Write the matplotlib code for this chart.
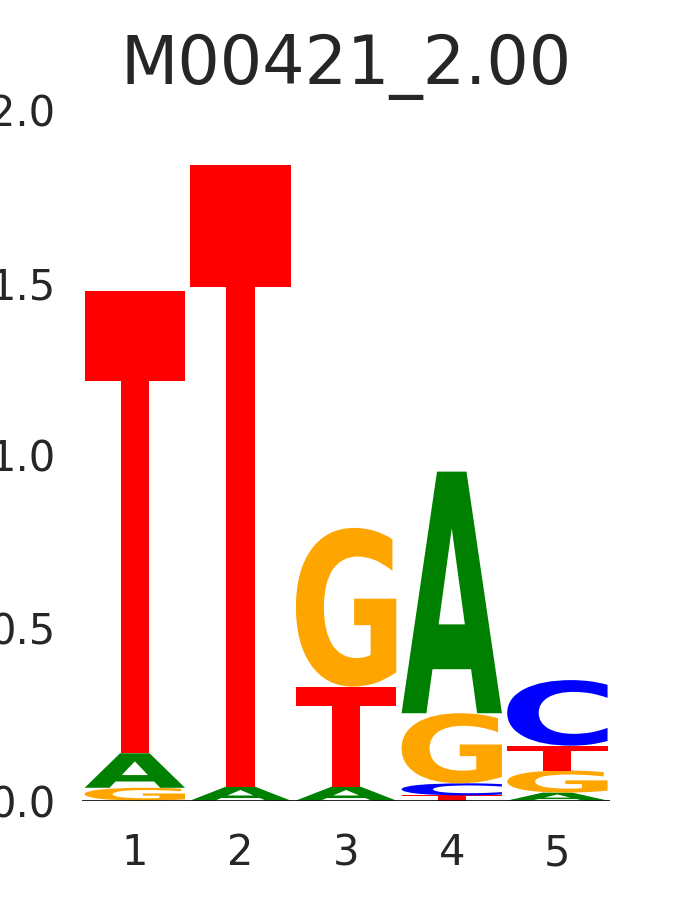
import matplotlib
matplotlib.use("Agg")
import matplotlib.pyplot as plt
import numpy as np
import seaborn as sns
from matplotlib.textpath import TextPath
from matplotlib.patches import PathPatch
from matplotlib.font_manager import FontProperties
from matplotlib.transforms import Affine2D

# Data: information content per letter at each position (bits)
positions = [1, 2, 3, 4, 5]
letters = ['A', 'C', 'G', 'T']
height_A = [0.100, 0.040, 0.040, 0.700, 0.023]
height_C = [0.000, 0.000, 0.000, 0.035, 0.190]
height_G = [0.037, 0.000, 0.460, 0.203, 0.064]
height_T = [1.339, 1.800, 0.290, 0.015, 0.072]
colors = {'A': 'green', 'C': 'blue', 'G': 'orange', 'T': 'red'}
title = 'M00421_2.00'

sns.set_style('white')
plt.rcParams['font.family'] = ['DejaVu Sans']

fig = plt.figure(figsize=(6.75, 9), dpi=100)
ax = fig.add_axes([0.1215, 0.1105, 0.7825, 0.767])

fp = FontProperties(family='DejaVu Sans', weight='bold')


def draw_letter(ax, char, x, bottom, height, width=0.95):
    path = TextPath((0, 0), char, size=1, prop=fp)
    ext = path.get_extents()
    tr = (Affine2D()
          .translate(-ext.x0, -ext.y0)
          .scale(width / ext.width, height / ext.height)
          .translate(x - width / 2, bottom))
    patch = PathPatch(tr.transform_path(path), facecolor=colors[char],
                      edgecolor='none', linewidth=0)
    ax.add_patch(patch)


heights = {'A': height_A, 'C': height_C, 'G': height_G, 'T': height_T}
for i, pos in enumerate(positions):
    col = sorted([(heights[c][i], c) for c in letters])
    bottom = 0.0
    for h, c in col:
        if h > 0:
            draw_letter(ax, c, pos, bottom, h)
        bottom += h

ax.axhline(0, color='black', linewidth=1.2, zorder=5)
ax.set_xlim(0.5, 5.5)
ax.set_ylim(0, 2)
ax.set_xticks(positions)
ax.set_yticks([0, 0.5, 1.0, 1.5, 2.0])
ax.set_yticklabels(['0.0', '0.5', '1.0', '1.5', '2.0'])
ax.tick_params(labelsize=30, colors='#262626', length=0)
ax.tick_params(axis='x', pad=23)
ax.tick_params(axis='y', pad=19)
for s in ax.spines.values():
    s.set_visible(False)
ax.set_title(title, fontsize=48, color='#262626', pad=19)

fig.savefig('out.png', dpi=100)
